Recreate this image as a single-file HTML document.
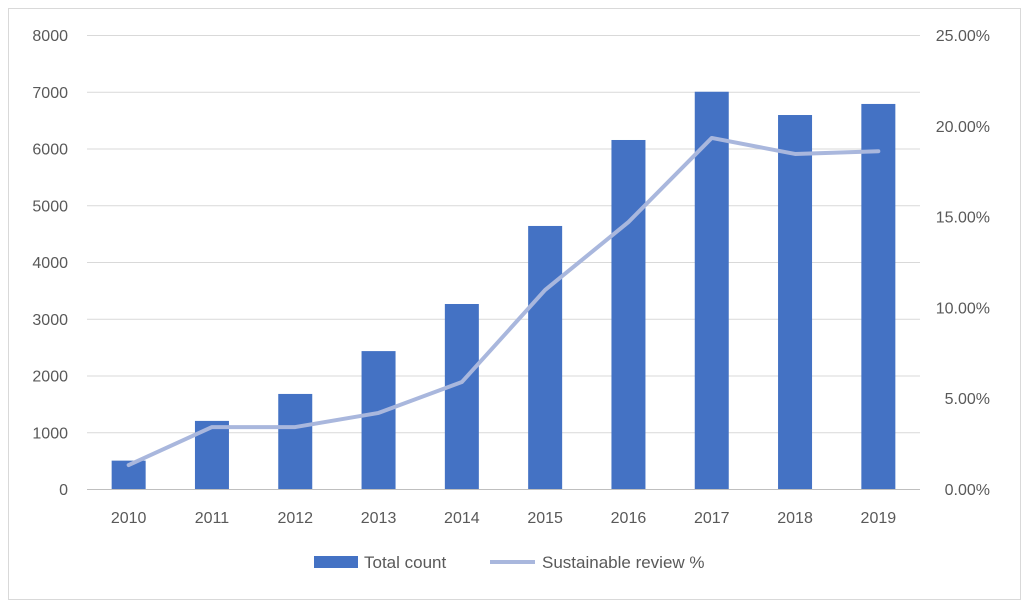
<!DOCTYPE html>
<html><head><meta charset="utf-8">
<style>
html,body{margin:0;padding:0;background:#fff;}
svg{display:block;font-family:"Liberation Sans",Arial,sans-serif;}
</style></head>
<body>
<svg id="chart" width="1033" height="612" viewBox="0 0 1033 612" xmlns="http://www.w3.org/2000/svg">
<rect x="8.5" y="8.5" width="1012" height="591" fill="#fff" stroke="#d9d9d9"/>
<g id="grid"></g>
<g id="bars"></g>
<g id="line"></g>
<g id="ylab"></g>
<g id="y2lab"></g>
<g id="xlab"></g>
<g>
<rect x="314" y="556" width="44" height="12" fill="#4472c4"/>
<text x="364" y="568" font-size="17" fill="#595959">Total count</text>
<line x1="490" y1="562" x2="535" y2="562" stroke="#a9b7dd" stroke-width="4"/>
<text x="542" y="568" font-size="17" fill="#595959">Sustainable review %</text>
</g>
</svg>
<script>
const categories=["2010","2011","2012","2013","2014","2015","2016","2017","2018","2019"];
const totalCount=[500,1200,1675,2430,3260,4635,6150,7000,6590,6785];
const sustainablePct=[1.32,3.41,3.41,4.19,5.89,10.96,14.7,19.33,18.45,18.6];
const leftTicks=[0,1000,2000,3000,4000,5000,6000,7000,8000];
const rightTicks=[0,5,10,15,20,25];
const NS="http://www.w3.org/2000/svg";
const X0=87,X1=920,Y0=489,Y1=35;
const bandW=(X1-X0)/categories.length;
const xc=i=>X0+bandW*(i+0.5);
const yL=v=>Y0-(v/8000)*(Y0-Y1);
const yR=v=>Y0-(v/25)*(Y0-Y1);
function mk(tag,attrs,parent){const e=document.createElementNS(NS,tag);for(const k in attrs)e.setAttribute(k,attrs[k]);parent.appendChild(e);return e;}
const grid=document.getElementById('grid'),bars=document.getElementById('bars'),line=document.getElementById('line');
const ylab=document.getElementById('ylab'),y2lab=document.getElementById('y2lab'),xlab=document.getElementById('xlab');
leftTicks.forEach(t=>{
  const g=mk('line',{x1:X0,x2:X1,y1:yL(t)+0.5,y2:yL(t)+0.5,stroke:t===0?'#bfbfbf':'#d9d9d9','stroke-width':1},grid);
  
  
  const tx=mk('text',{x:68,y:yL(t)+6,'text-anchor':'end','font-size':16,fill:'#595959'},ylab);
  tx.textContent=t;
  
  
});
rightTicks.forEach(t=>{
  const tx=mk('text',{x:990,y:yR(t)+6,'text-anchor':'end','font-size':16,fill:'#595959'},y2lab);
  tx.textContent=t.toFixed(2)+'%';
  
  
});
const bw=34;
categories.forEach((c,i)=>{
  const r=mk('rect',{x:xc(i)-bw/2,y:yL(totalCount[i]),width:bw,height:Y0-yL(totalCount[i]),fill:'#4472c4'},bars);
  
  
  const tx=mk('text',{x:xc(i),y:523,'text-anchor':'middle','font-size':16,fill:'#595959'},xlab);
  tx.textContent=c;
  
  
});
const pts=sustainablePct.map((v,i)=>xc(i)+','+yR(v)).join(' ');
const pl=mk('polyline',{points:pts,fill:'none',stroke:'#a9b7dd','stroke-width':4,'stroke-linejoin':'round','stroke-linecap':'round'},line);


</script>
</body></html>
